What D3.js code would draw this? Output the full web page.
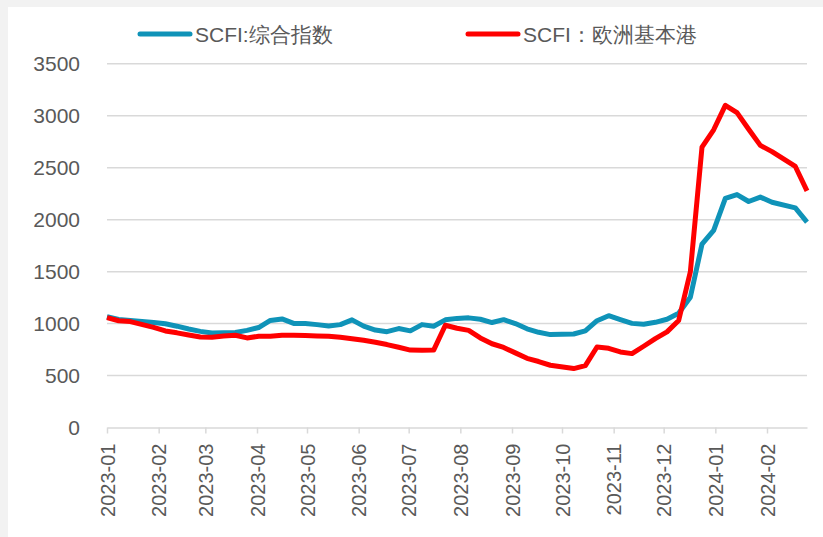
<!DOCTYPE html>
<html>
<head>
<meta charset="utf-8">
<script src="https://cdn.jsdelivr.net/npm/d3@7"></script>
<style>
  body { margin: 0; background: #f2f2f2; }
  svg { display: block; }
  text { font-family: "Liberation Sans", Arial, sans-serif; fill: #595959; }
</style>
</head>
<body>
<svg width="823" height="537"></svg>
<script>
(function () {

  // weekly SCFI readings (no release on 2023-01-27, 2023-10-06, 2024-02-16)
  var dates = [
    '2023-01-06','2023-01-13','2023-01-20','2023-02-03','2023-02-10','2023-02-17','2023-02-24',
    '2023-03-03','2023-03-10','2023-03-17','2023-03-24','2023-03-31','2023-04-07','2023-04-14',
    '2023-04-21','2023-04-28','2023-05-05','2023-05-12','2023-05-19','2023-05-26','2023-06-02',
    '2023-06-09','2023-06-16','2023-06-23','2023-06-30','2023-07-07','2023-07-14','2023-07-21',
    '2023-07-28','2023-08-04','2023-08-11','2023-08-18','2023-08-25','2023-09-01','2023-09-08',
    '2023-09-15','2023-09-22','2023-09-29','2023-10-13','2023-10-20','2023-10-27','2023-11-03',
    '2023-11-10','2023-11-17','2023-11-24','2023-12-01','2023-12-08','2023-12-15','2023-12-22',
    '2023-12-29','2024-01-05','2024-01-12','2024-01-19','2024-01-26','2024-02-02','2024-02-09',
    '2024-02-23','2024-03-01'
  ]

  // SCFI composite index
  var composite = [
    1066, 1040, 1030, 1010, 998, 975, 948,
    925, 910, 912, 915, 935, 962, 1030,
    1045, 1002, 1000, 990, 976, 990, 1036,
    976, 938, 922, 952, 930, 990, 975,
    1036, 1050, 1055, 1042, 1010, 1038, 1000,
    950, 916, 894, 900, 930, 1028, 1076,
    1038, 1002, 994, 1012, 1042, 1100, 1254,
    1765, 1897, 2205, 2242, 2175, 2217, 2168,
    2113, 1977
  ]

  // SCFI Europe base ports
  var europe = [
    1058, 1027, 1019, 963, 929, 911, 890,
    871, 868, 881, 888, 862, 878, 878,
    888, 888, 885, 881, 878, 868, 855,
    839, 820, 798, 772, 745, 743, 745,
    984, 955, 935, 862, 806, 770, 718,
    666, 635, 599, 567, 595, 775, 762,
    727, 711, 782, 855, 920, 1030, 1497,
    2698, 2865, 3100, 3030, 2870, 2715, 2655,
    2512, 2277
  ]

  var yTicks = [0, 500, 1000, 1500, 2000, 2500, 3000, 3500]
  var seriesNames = ['SCFI:综合指数', 'SCFI：欧洲基本港']
  var seriesColors = ['#0f93b8', '#ff0000']

  var parse = d3.timeParse('%Y-%m-%d')
  var days = dates.map(parse)

  var svg = d3.select('svg')

  // white chart area on a light grey page
  svg.append('rect')
    .attr('x', 8).attr('y', 7)
    .attr('width', 823 - 8).attr('height', 537 - 7)
    .attr('fill', '#ffffff')

  // Scales come here
  var xScale = d3.scaleTime()
    .domain([parse('2023-01-06'), parse('2024-03-01')])
    .range([107, 807])
  var yScale = d3.scaleLinear().domain([0, 3500]).range([427.5, 63.8])

  // gridlines
  svg.append('g')
    .selectAll('line')
    .data(yTicks.slice(1))
    .enter().append('line')
    .attr('x1', 107).attr('x2', 807)
    .attr('y1', function(d) { return yScale(d) })
    .attr('y2', function(d) { return yScale(d) })
    .attr('stroke', '#d9d9d9')
    .attr('stroke-width', 1.5)

  // y labels
  svg.append('g')
    .selectAll('text')
    .data(yTicks)
    .enter().append('text')
    .attr('x', 80)
    .attr('y', function(d) { return yScale(d) })
    .attr('dy', '0.36em')
    .attr('text-anchor', 'end')
    .style('font-size', '21px')
    .text(function(d) { return d })

  // x axis: one tick per month, counted from the first reading
  var monthTicks = d3.range(14).map(function(i) {
    return d3.timeMonth.offset(parse('2023-01-06'), i)
  })
  var xAxis = d3.axisBottom(xScale)
    .tickValues(monthTicks)
    .tickSize(6)
    .tickSizeOuter(0)
    .tickFormat(d3.timeFormat('%Y-%m'))

  var xg = svg.append('g')
    .attr('transform', 'translate(0,' + yScale(0) + ')')
    .call(xAxis)
  xg.select('.domain').attr('stroke', '#d9d9d9').attr('stroke-width', 1.5)
  xg.selectAll('.tick line').attr('stroke', '#d9d9d9').attr('stroke-width', 1.5)
  xg.selectAll('.tick text')
    .attr('fill', '#595959')
    .style('font-size', '20px')
    .attr('transform', 'rotate(-90)')
    .attr('text-anchor', 'end')
    .attr('x', -16)
    .attr('y', 0)
    .attr('dy', '0.36em')

  // lines
  var line = function(values) {
    return d3.line()
      .x(function(d, i) { return xScale(days[i]) })
      .y(function(d) { return yScale(d) })(values)
  }

  svg.append('path')
    .attr('d', line(composite))
    .attr('fill', 'none')
    .attr('stroke', seriesColors[0])
    .attr('stroke-width', 5)
    .attr('stroke-linejoin', 'round')

  svg.append('path')
    .attr('d', line(europe))
    .attr('fill', 'none')
    .attr('stroke', seriesColors[1])
    .attr('stroke-width', 5)
    .attr('stroke-linejoin', 'round')

  // legend
  var legendX = [138, 466]
  var legend = svg.append('g')
    .selectAll('g')
    .data(seriesNames)
    .enter().append('g')
    .attr('transform', function(d, i) { return 'translate(' + legendX[i] + ',34)' })

  legend.append('line')
    .attr('x1', 2).attr('x2', 52)
    .attr('stroke', function(d, i) { return seriesColors[i] })
    .attr('stroke-width', 5)
    .attr('stroke-linecap', 'round')

  legend.append('text')
    .attr('x', 57)
    .attr('dy', '0.36em')
    .style('font-size', '21px')
    .text(function(d) { return d })

})()
</script>
</body>
</html>
